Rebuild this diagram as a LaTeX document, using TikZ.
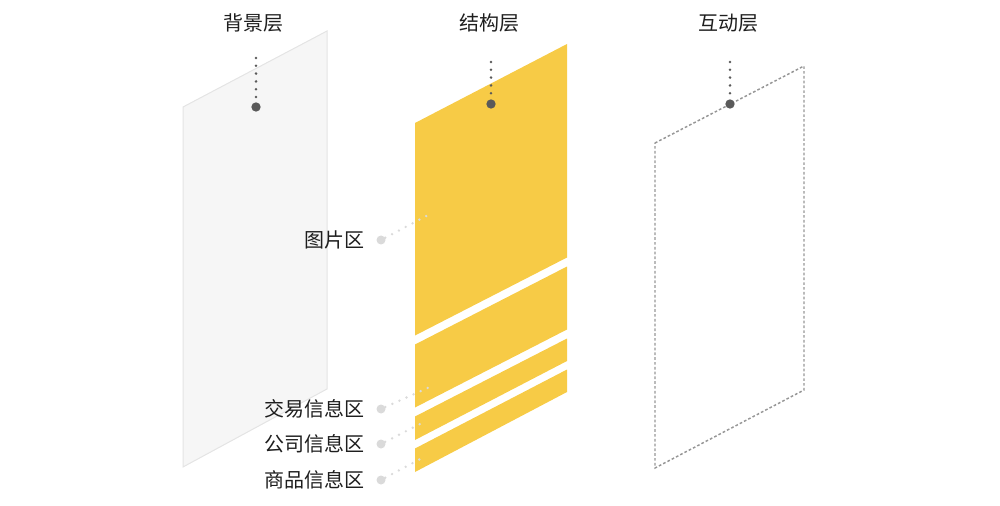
\documentclass[tikz,border=0pt]{standalone}
\usepackage{fontspec}
\setmainfont{Noto Sans CJK SC}
\usetikzlibrary{positioning}
\definecolor{layeryellow}{RGB}{247,203,70}
\definecolor{bggray}{RGB}{246,246,246}
\definecolor{bgedge}{RGB}{228,228,228}
\definecolor{pindark}{RGB}{90,90,90}
\definecolor{pinlight}{RGB}{218,218,218}
\definecolor{dashgray}{RGB}{150,150,150}
\definecolor{textdark}{RGB}{30,30,30}
\begin{document}
\begin{tikzpicture}[x=0.75pt,y=-0.75pt]
  \tikzstyle{title}=[font=\fontsize{15pt}{18pt}\selectfont,text=textdark,inner sep=0pt]
  \tikzstyle{area}=[title]
  \tikzstyle{pin}=[circle,fill=pindark,inner sep=0pt,minimum size=7pt]
  \tikzstyle{areapin}=[circle,fill=pinlight,inner sep=0pt,minimum size=6.75pt]
  \tikzstyle{pinline}=[pindark,line width=2.1pt,line cap=round,dash pattern=on 0pt off 5.85pt]
  \tikzstyle{arealine}=[pinlight,line width=2pt,line cap=round,dash pattern=on 0pt off 5.8pt]
  \useasboundingbox (0,0) rectangle (1000,506);
  \filldraw[fill=bggray,draw=bgedge,line width=0.75pt] (183,107) -- (327,31) -- (327,389) -- (183,467) -- cycle;
  \fill[layeryellow] (415,123) -- (567,44) -- (567,257.5) -- (415,335.5) -- cycle;
  \fill[layeryellow] (415,344.5) -- (567,266.5) -- (567,329.5) -- (415,407.5) -- cycle;
  \fill[layeryellow] (415,416.5) -- (567,338.5) -- (567,361) -- (415,440) -- cycle;
  \fill[layeryellow] (415,448.5) -- (567,369.5) -- (567,392) -- (415,472) -- cycle;
  \draw[dashgray,line width=1.1pt,dash pattern=on 2pt off 1.6pt] (655,143) -- (804,66) -- (804,390) -- (655,468) -- cycle;
  \node[title] (bgtitle) at (253,23) {背景层};
  \node[title] (sttitle) at (489,23) {结构层};
  \node[title] (intitle) at (728,23) {互动层};
  \node[pin] (bgpin) at (256,107) {};
  \node[pin] (stpin) at (491,104) {};
  \node[pin] (inpin) at (730,104) {};
  \coordinate (bgtop) at (256,58);
  \coordinate (sttop) at (491,62);
  \coordinate (intop) at (730,62);
  \draw[pinline] (bgtop) -- (bgpin);
  \draw[pinline] (sttop) -- (stpin);
  \draw[pinline] (intop) -- (inpin);
  \node[areapin] (picpin) at (381,240) {};
  \node[areapin] (dealpin) at (381,409) {};
  \node[areapin] (comppin) at (381,444) {};
  \node[areapin] (goodspin) at (381,480) {};
  \node[area,left=8.5pt of picpin] (pic) {图片区};
  \node[area,left=8.5pt of dealpin] (deal) {交易信息区};
  \node[area,left=8.5pt of comppin] (comp) {公司信息区};
  \node[area,left=8.5pt of goodspin] (goods) {商品信息区};
  \coordinate (picend) at (432,213);
  \coordinate (dealend) at (432,386);
  \coordinate (compend) at (424,422);
  \coordinate (goodsend) at (424,457);
  \draw[arealine] (picpin) -- (picend);
  \draw[arealine] (dealpin) -- (dealend);
  \draw[arealine] (comppin) -- (compend);
  \draw[arealine] (goodspin) -- (goodsend);
\end{tikzpicture}
\end{document}
